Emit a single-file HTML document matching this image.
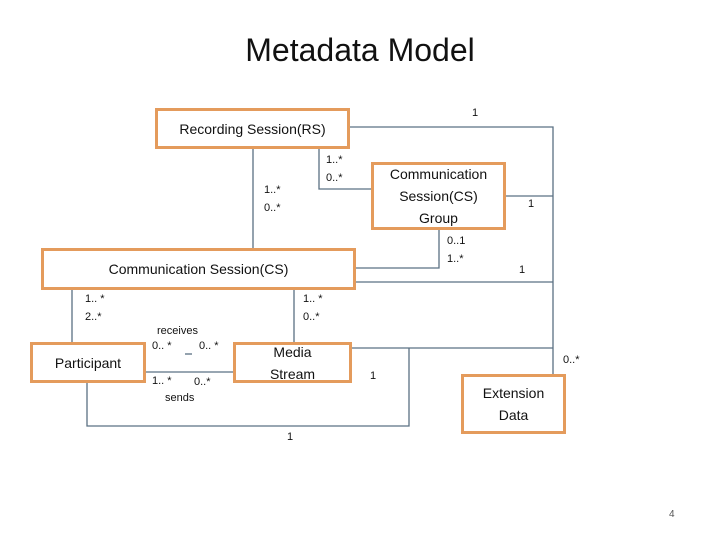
<!DOCTYPE html>
<html><head><meta charset="utf-8"><style>
body{margin:0;width:720px;height:540px;background:#fff;position:relative;overflow:hidden;font-family:"Liberation Sans",sans-serif;}
.t{position:absolute;white-space:nowrap;color:#111;}
.box{position:absolute;box-sizing:border-box;border:3px solid #E49B5C;background:#fff;display:flex;align-items:center;justify-content:center;text-align:center;font-size:14px;line-height:22px;color:#111;}
.s{position:absolute;font-size:11px;line-height:18px;white-space:nowrap;color:#111;}
</style></head><body>
<div class="t" style="left:0;width:720px;text-align:center;top:32px;font-size:32px;">Metadata Model</div>
<svg width="720" height="540" style="position:absolute;left:0;top:0" fill="none" stroke="#5B7183" stroke-width="1.3">
<path d="M349 127H553V374"/>
<path d="M505 196H553"/>
<path d="M355 282H553"/>
<path d="M351 348H553"/>
<path d="M319 148V189H372"/>
<path d="M253 148V248"/>
<path d="M439 229V268H355"/>
<path d="M72 289V342"/>
<path d="M294 289V342"/>
<path d="M145 372H233"/>
<path d="M185 354H192"/>
<path d="M87 382V426H409V348"/>
</svg>
<div class="box" style="left:155px;top:108px;width:195px;height:41px;">Recording Session(RS)</div>
<div class="box" style="left:371px;top:162px;width:135px;height:68px;">Communication<br>Session(CS)<br>Group</div>
<div class="box" style="left:41px;top:248px;width:315px;height:42px;">Communication Session(CS)</div>
<div class="box" style="left:30px;top:342px;width:116px;height:41px;">Participant</div>
<div class="box" style="left:233px;top:342px;width:119px;height:41px;">Media<br>Stream</div>
<div class="box" style="left:461px;top:374px;width:105px;height:60px;">Extension<br>Data</div>
<div class="s" style="left:472px;top:104px;">1</div>
<div class="s" style="left:326px;top:151px;">1..*<br>0..*</div>
<div class="s" style="left:264px;top:181px;">1..*<br>0..*</div>
<div class="s" style="left:528px;top:195px;">1</div>
<div class="s" style="left:447px;top:232px;">0..1<br>1..*</div>
<div class="s" style="left:519px;top:261px;">1</div>
<div class="s" style="left:85px;top:290px;">1.. *<br>2..*</div>
<div class="s" style="left:303px;top:290px;">1.. *<br>0..*</div>
<div class="s" style="left:157px;top:322px;">receives</div>
<div class="s" style="left:152px;top:337px;">0.. *</div>
<div class="s" style="left:199px;top:337px;">0.. *</div>
<div class="s" style="left:152px;top:372px;">1.. *</div>
<div class="s" style="left:194px;top:373px;">0..*</div>
<div class="s" style="left:165px;top:389px;">sends</div>
<div class="s" style="left:370px;top:367px;">1</div>
<div class="s" style="left:563px;top:351px;">0..*</div>
<div class="s" style="left:287px;top:428px;">1</div>
<div class="s" style="left:669px;top:506px;font-size:10px;color:#555;">4</div>
</body></html>
